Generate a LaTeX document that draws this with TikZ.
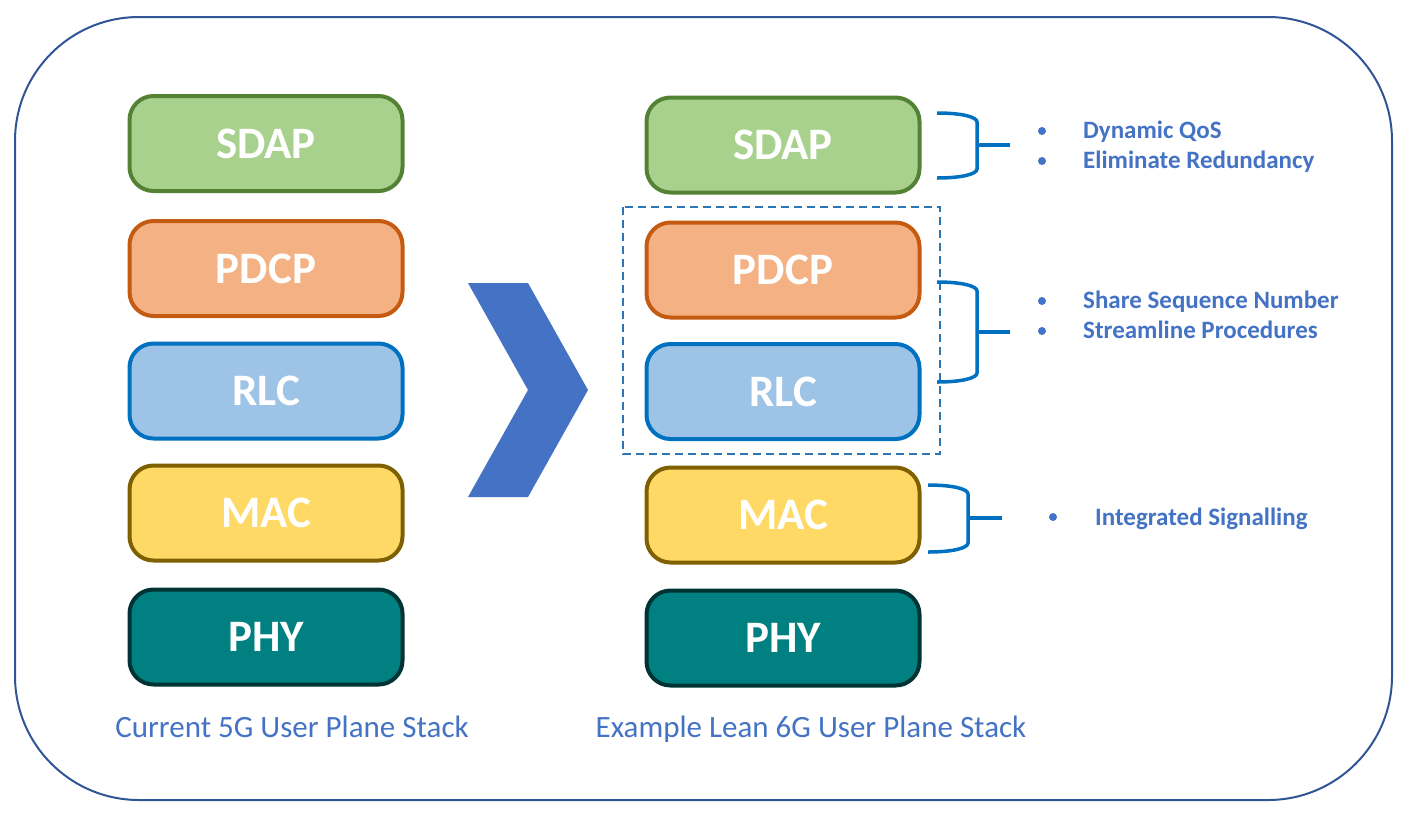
\documentclass[tikz,border=0pt]{standalone}
\usepackage{fontspec}
\setmainfont{Carlito}
\usetikzlibrary{positioning}
\definecolor{framenavy}{HTML}{2F5597}
\definecolor{textblue}{HTML}{4472C4}
\definecolor{bracketblue}{HTML}{0070C0}
\definecolor{dashblue}{HTML}{2E75B6}
\definecolor{sdapfill}{HTML}{A9D18E}
\definecolor{sdapline}{HTML}{548235}
\definecolor{pdcpfill}{HTML}{F4B183}
\definecolor{pdcpline}{HTML}{C55A11}
\definecolor{rlcfill}{HTML}{9DC3E6}
\definecolor{rlcline}{HTML}{0070C0}
\definecolor{macfill}{HTML}{FFD966}
\definecolor{macline}{HTML}{7F6000}
\definecolor{phyfill}{HTML}{008080}
\definecolor{phyline}{HTML}{003333}

\begin{document}
\begin{tikzpicture}[
    x=1pt, y=-1pt,
    layer/.style={
        line width=4pt, rounded corners=24pt,
        minimum width=273pt, minimum height=95pt,
        font=\bfseries\fontsize{45}{52}\selectfont, text=white
    },
    sdapbox/.style={layer, draw=sdapline, fill=sdapfill},
    pdcpbox/.style={layer, draw=pdcpline, fill=pdcpfill},
    rlcbox/.style={layer, draw=rlcline, fill=rlcfill},
    macbox/.style={layer, draw=macline, fill=macfill},
    phybox/.style={layer, draw=phyline, fill=phyfill},
    stacklabel/.style={
        font=\fontsize{31}{36}\selectfont, text=textblue, anchor=base
    },
    notetext/.style={
        font=\bfseries\fontsize{25}{30}\selectfont, text=textblue,
        anchor=base west, inner sep=0pt
    },
    bulletdot/.style={
        circle, fill=textblue, inner sep=0pt, minimum size=8pt
    },
    bracket/.style={
        draw=bracketblue, line width=3.5pt
    },
]

% === Page and frame ===
\useasboundingbox (0,0) rectangle (1410,823);
\draw[framenavy, line width=2pt, rounded corners=124pt] (15,17) rectangle (1392,800);

% === Current 5G stack ===
\foreach \n/\lab/\sty/\y in {1/SDAP/sdapbox/143.5, 2/PDCP/pdcpbox/268.5,
        3/RLC/rlcbox/391, 4/MAC/macbox/513, 5/PHY/phybox/637} {
    \node[\sty] (cur\n) at (266,\y) {\lab};
}
\node[stacklabel] (curlabel) at (292,737) {Current 5G User Plane Stack};

% === Lean 6G stack ===
\foreach \n/\lab/\sty/\y in {1/SDAP/sdapbox/145, 2/PDCP/pdcpbox/270,
        3/RLC/rlcbox/391.5, 4/MAC/macbox/515, 5/PHY/phybox/638} {
    \node[\sty] (lean\n) at (783,\y) {\lab};
}
\node[stacklabel] (leanlabel) at (811,737) {Example Lean 6G User Plane Stack};

% Merged PDCP/RLC group
\draw[dashblue, line width=1.8pt, dash pattern=on 8pt off 5pt] (623,207) rectangle (940,454);

% === Chevron between stacks ===
\fill[textblue] (468,283) -- (528,283) -- (588,390) -- (528,497)
    -- (468,497) -- (528,390) -- cycle;

% === Brackets ===
\coordinate (b1top) at (937,113);
\coordinate (b1bot) at (937,178);
\coordinate (b1tip) at (1010,145);
\coordinate (b2top) at (937,282);
\coordinate (b2bot) at (937,382);
\coordinate (b2tip) at (1010,332);
\coordinate (b3top) at (928,485);
\coordinate (b3bot) at (928,552);
\coordinate (b3tip) at (1002,518);

\foreach \b/\x in {b1/977, b2/977, b3/968} {
    \draw[bracket] (\b top) .. controls ([xshift=25pt]\b top) and ([yshift=-4pt]\b top -| \x,0) .. ([yshift=-9pt]\b top -| \x,0)
        -- ([yshift=9pt]\b bot -| \x,0) .. controls ([yshift=4pt]\b bot -| \x,0) and ([xshift=25pt]\b bot) .. (\b bot);
    \draw[bracket] (\b tip -| \x,0) -- (\b tip);
}

% === Notes ===
\node[bulletdot] (d1) at (1042,131) {};
\node[notetext] (n1) at (1083,138) {Dynamic QoS};
\node[bulletdot] (d2) at (1042,161) {};
\node[notetext] (n2) at (1083,168) {Eliminate Redundancy};
\node[bulletdot] (d3) at (1042,301) {};
\node[notetext] (n3) at (1083,308) {Share Sequence Number};
\node[bulletdot] (d4) at (1042,331) {};
\node[notetext] (n4) at (1083,338) {Streamline Procedures};
\node[bulletdot] (d5) at (1053,517) {};
\node[notetext] (n5) at (1095,525) {Integrated Signalling};

\end{tikzpicture}
\end{document}
